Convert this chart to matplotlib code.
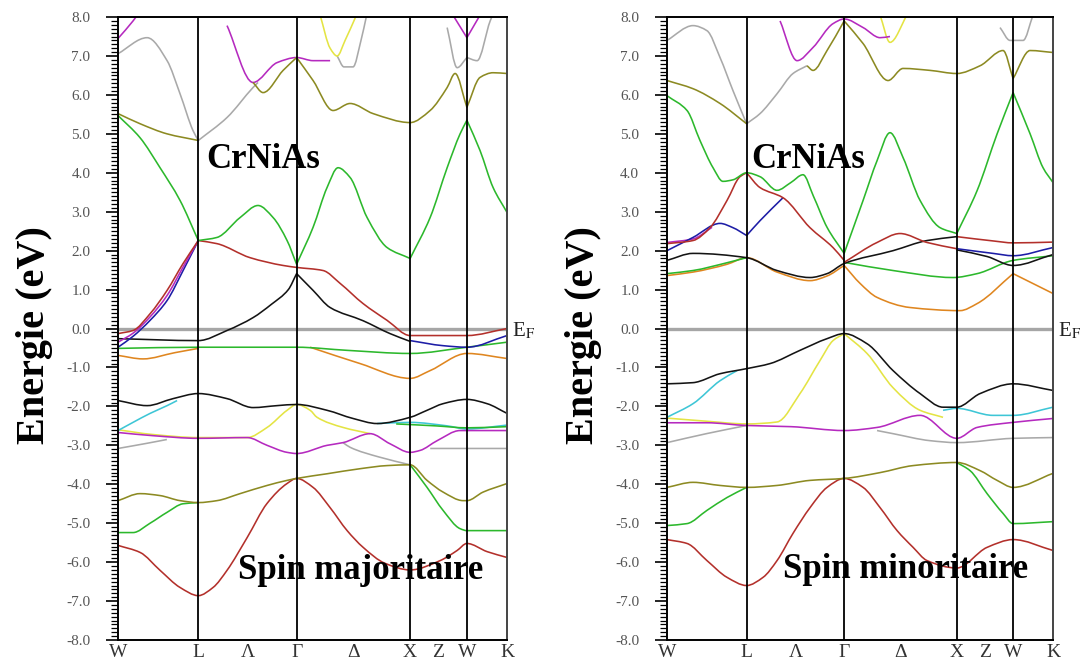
import matplotlib
matplotlib.use("Agg")
import matplotlib.pyplot as plt
from matplotlib.path import Path
from matplotlib.patches import PathPatch
from matplotlib.ticker import MultipleLocator, FormatStrFormatter

plt.rcParams["font.family"] = ["Liberation Serif", "DejaVu Serif"]
plt.rcParams["mathtext.fontset"] = "stix"

# high-symmetry path W-L-G-X-W-K (units of 2pi/a) and the labels along it
K_NODES = [0.0, 0.707, 1.573, 2.573, 3.073, 3.427]
K_TICKS = [0.0, 0.707, 1.140, 1.573, 2.073, 2.573, 2.823, 3.073, 3.427]
K_NAMES = ["W", "L", "Λ", "Γ", "Δ", "X", "Z", "W", "K"]

COL = {
    "red": "#b3302b", "green": "#2cb82c", "olive": "#8c8a22", "gray": "#a9a9a9",
    "magenta": "#b52abf", "yellow": "#e4e444", "cyan": "#3ec6d6", "orange": "#df8620",
    "blue": "#1d1da6", "black": "#141414",
}

# ---------------- spin majoritaire : (k, E[eV]) ----------------
MAJ_RED_LOW = [(0, -5.57), (0.194, -5.75), (0.37, -6.21), (0.546, -6.65), (0.707, -6.86),
               (0.837, -6.65), (0.96, -6.21), (1.137, -5.37), (1.313, -4.49), (1.489, -3.98),
               (1.573, -3.85), (1.718, -4.08), (1.868, -4.6), (2.018, -5.19), (2.159, -5.62),
               (2.352, -6.03), (2.573, -6.2), (2.837, -5.96), (2.987, -5.7), (3.073, -5.52),
               (3.251, -5.73), (3.427, -5.88)]
MAJ_GREEN_LOW_A = [(0, -5.24), (0.132, -5.24), (0.282, -5.0), (0.432, -4.72), (0.573, -4.5), (0.707, -4.47)]
MAJ_OLIVE_LOW = [(0, -4.42), (0.194, -4.24), (0.37, -4.29), (0.546, -4.42), (0.707, -4.47),
                 (0.872, -4.42), (1.075, -4.24), (1.313, -4.03), (1.489, -3.9), (1.573, -3.85),
                 (1.841, -3.73), (2.132, -3.6), (2.37, -3.52), (2.573, -3.5), (2.722, -3.9),
                 (2.863, -4.2), (3.04, -4.42), (3.073, -4.42), (3.216, -4.2), (3.427, -3.98)]
MAJ_GREEN_LOW_B = [(2.573, -3.5), (2.722, -4.08), (2.863, -4.67), (3.013, -5.14), (3.073, -5.19), (3.427, -5.19)]
MAJ_GRAY_LOW_A = [(0, -3.08), (0.25, -2.95), (0.43, -2.85)]
MAJ_GRAY_LOW_B = [(1.982, -2.93), (2.044, -3.05), (2.3, -3.3), (2.573, -3.5)]
MAJ_GRAY_LOW_C = [(2.75, -3.08), (3.073, -3.08), (3.427, -3.08)]
MAJ_MAGENTA_MID = [(0, -2.67), (0.3, -2.75), (0.707, -2.82), (1.137, -2.8), (1.313, -3.0),
                   (1.489, -3.18), (1.573, -3.21), (1.841, -3.0), (1.982, -2.93), (2.22, -2.7),
                   (2.396, -2.96), (2.573, -3.18), (2.661, -3.13), (2.811, -2.88), (3.013, -2.62),
                   (3.073, -2.62), (3.427, -2.62)]
MAJ_YELLOW_MID = [(0, -2.6), (0.3, -2.72), (0.707, -2.8), (0.96, -2.8), (1.137, -2.8),
                  (1.313, -2.54), (1.489, -2.1), (1.573, -1.95), (1.692, -2.1), (1.753, -2.28),
                  (1.982, -2.54), (2.22, -2.7)]
MAJ_CYAN_A = [(0, -2.62), (0.132, -2.41), (0.282, -2.18), (0.432, -1.98), (0.52, -1.85)]
MAJ_CYAN_B = [(2.282, -2.44), (2.573, -2.41), (2.9, -2.5), (3.073, -2.58), (3.427, -2.48)]
MAJ_GREEN_MID = [(2.45, -2.45), (2.8, -2.5), (3.073, -2.55), (3.427, -2.52)]
MAJ_BLACK_MID = [(0, -1.85), (0.256, -1.98), (0.485, -1.8), (0.707, -1.67), (0.96, -1.8),
                 (1.189, -2.03), (1.401, -1.98), (1.573, -1.95), (1.841, -2.1), (2.07, -2.31),
                 (2.282, -2.44), (2.573, -2.28), (2.722, -2.1), (2.863, -1.93), (3.073, -1.82),
                 (3.251, -1.93), (3.427, -2.18)]
MAJ_ORANGE_EF_A = [(0, -0.69), (0.22, -0.78), (0.5, -0.62), (0.707, -0.51)]
MAJ_ORANGE_EF_B = [(1.692, -0.48), (2.132, -0.9), (2.573, -1.28), (2.749, -1.08), (3.073, -0.64), (3.427, -0.77)]
MAJ_GREEN_EF = [(0, -0.51), (0.707, -0.48), (1.573, -0.48), (2.018, -0.56), (2.573, -0.64),
                (3.073, -0.48), (3.427, -0.35)]
MAJ_BLACK_EF = [(0, -0.26), (0.707, -0.31), (0.96, -0.05), (1.189, 0.28), (1.35, 0.62),
                (1.5, 1.0), (1.573, 1.41), (1.718, 0.98), (1.868, 0.54),
                (2.159, 0.2), (2.396, -0.13), (2.573, -0.33)]
MAJ_BLUE_EF = [(0, -0.48), (0.132, -0.2), (0.282, 0.21), (0.432, 0.72), (0.573, 1.49), (0.707, 2.26)]
MAJ_BLUE_EF_B = [(2.573, -0.31), (2.863, -0.44), (3.073, -0.48), (3.427, -0.18)]
MAJ_MAGENTA_EF = [(0, -0.35), (0.132, -0.12), (0.282, 0.3), (0.432, 0.85), (0.573, 1.58), (0.707, 2.26)]
MAJ_RED_EF = [(0, -0.13), (0.132, -0.05), (0.282, 0.38), (0.432, 0.98), (0.573, 1.67), (0.707, 2.26),
              (0.872, 2.18), (1.163, 1.82), (1.454, 1.62), (1.573, 1.57), (1.806, 1.49),
              (1.956, 1.16), (2.159, 0.64), (2.37, 0.21), (2.573, -0.18), (3.073, -0.18), (3.427, 0.0)]
MAJ_GREEN_UP = [(0, 5.47), (0.194, 4.9), (0.37, 4.13), (0.546, 3.29), (0.707, 2.26), (0.872, 2.34),
                (1.075, 2.85), (1.233, 3.16), (1.366, 2.85), (1.489, 2.26), (1.573, 1.65),
                (1.718, 2.6), (1.841, 3.62), (1.938, 4.13), (2.044, 3.88), (2.194, 2.85),
                (2.37, 2.08), (2.573, 1.8), (2.749, 2.85), (2.899, 4.13), (3.013, 5.0), (3.073, 5.35),
                (3.189, 4.57), (3.304, 3.62), (3.427, 2.98)]
MAJ_OLIVE_UP = [(0, 5.52), (0.194, 5.26), (0.432, 5.0), (0.707, 4.83)]
MAJ_GRAY_UP = [(0, 7.06), (0.256, 7.47), (0.432, 6.88), (0.546, 6.03), (0.661, 5.08), (0.707, 4.83),
               (0.96, 5.42), (1.189, 6.19), (1.233, 6.32)]
MAJ_MAGENTA_TOP_A = [(0, 7.45), (0.132, 7.9), (0.17, 8.05)]
MAJ_MAGENTA_TOP_B = [(0.96, 7.78), (1.189, 6.32), (1.401, 6.83), (1.573, 6.96), (1.718, 6.88), (1.868, 6.88)]
MAJ_OLIVE_TOP = [(1.189, 6.32), (1.278, 6.06), (1.454, 6.63), (1.573, 6.96), (1.718, 6.37),
                 (1.894, 5.6), (2.044, 5.78), (2.247, 5.52), (2.573, 5.29), (2.749, 5.6),
                 (2.899, 6.19), (2.969, 6.55), (3.073, 5.68), (3.189, 6.45), (3.304, 6.57), (3.427, 6.55)]
MAJ_YELLOW_TOP = [(1.78, 8.05), (1.868, 7.2), (1.93, 7.0), (2.0, 7.4), (2.1, 8.05)]
MAJ_GRAY_TOP_A = [(1.93, 7.0), (1.99, 6.72), (2.07, 6.72), (2.14, 7.4), (2.19, 8.05)]
MAJ_GRAY_TOP_B = [(2.899, 7.73), (2.987, 6.7), (3.073, 6.96), (3.163, 6.88), (3.278, 7.9), (3.3, 8.05)]
MAJ_MAGENTA_TOP_C = [(2.95, 8.05), (3.073, 7.47), (3.189, 8.05)]

MAJ_BANDS = [
    (MAJ_GRAY_LOW_A, "gray"), (MAJ_GRAY_LOW_B, "gray"), (MAJ_GRAY_LOW_C, "gray"),
    (MAJ_GRAY_UP, "gray"), (MAJ_GRAY_TOP_A, "gray"), (MAJ_GRAY_TOP_B, "gray"),
    (MAJ_YELLOW_MID, "yellow"), (MAJ_YELLOW_TOP, "yellow"),
    (MAJ_CYAN_A, "cyan"), (MAJ_CYAN_B, "cyan"), (MAJ_GREEN_MID, "green"),
    (MAJ_ORANGE_EF_A, "orange"), (MAJ_ORANGE_EF_B, "orange"),
    (MAJ_RED_LOW, "red"), (MAJ_GREEN_LOW_A, "green"), (MAJ_GREEN_LOW_B, "green"),
    (MAJ_OLIVE_LOW, "olive"), (MAJ_MAGENTA_MID, "magenta"), (MAJ_BLACK_MID, "black"),
    (MAJ_GREEN_EF, "green"), (MAJ_BLACK_EF, "black"), (MAJ_BLUE_EF, "blue"), (MAJ_BLUE_EF_B, "blue"),
    (MAJ_MAGENTA_EF, "magenta"), (MAJ_RED_EF, "red"), (MAJ_GREEN_UP, "green"),
    (MAJ_OLIVE_UP, "olive"), (MAJ_MAGENTA_TOP_A, "magenta"), (MAJ_MAGENTA_TOP_B, "magenta"),
    (MAJ_OLIVE_TOP, "olive"), (MAJ_MAGENTA_TOP_C, "magenta"),
]

# ---------------- spin minoritaire ----------------
MIN_RED_LOW = [(0, -5.42), (0.178, -5.52), (0.355, -5.96), (0.533, -6.39), (0.707, -6.6),
               (0.853, -6.39), (0.977, -5.96), (1.119, -5.26), (1.27, -4.6), (1.421, -4.08),
               (1.573, -3.85), (1.741, -4.08), (1.892, -4.6), (2.043, -5.19), (2.185, -5.62),
               (2.309, -5.96), (2.573, -6.15), (2.842, -5.62), (3.073, -5.42), (3.427, -5.7)]
MIN_GREEN_LOW_A = [(0, -5.06), (0.178, -5.01), (0.355, -4.67), (0.533, -4.34), (0.707, -4.08)]
MIN_OLIVE_LOW = [(0, -4.08), (0.231, -3.95), (0.471, -4.03), (0.707, -4.08), (0.977, -4.03),
                 (1.27, -3.9), (1.573, -3.85), (1.892, -3.7), (2.185, -3.52), (2.573, -3.44),
                 (2.78, -3.65), (2.931, -3.9), (3.073, -4.08), (3.427, -3.72)]
MIN_GREEN_LOW_B = [(2.573, -3.44), (2.691, -3.65), (2.842, -4.24), (2.984, -4.75), (3.073, -5.01), (3.427, -4.96)]
MIN_GRAY_LOW_A = [(0, -2.93), (0.35, -2.7), (0.707, -2.49)]
MIN_GRAY_LOW_B = [(1.865, -2.62), (2.007, -2.7), (2.336, -2.88), (2.573, -2.93), (3.073, -2.82), (3.427, -2.8)]
MIN_MAGENTA_MID = [(0, -2.42), (0.35, -2.42), (0.707, -2.49), (1.1, -2.52), (1.573, -2.62),
                   (1.865, -2.54), (2.247, -2.23), (2.573, -2.82), (2.753, -2.54), (3.073, -2.41), (3.427, -2.31)]
MIN_YELLOW_MID = [(0, -2.3), (0.35, -2.38), (0.707, -2.45), (0.977, -2.4), (1.181, -1.67),
                  (1.359, -0.82), (1.474, -0.31), (1.573, -0.13), (1.776, -0.64), (2.007, -1.52),
                  (2.247, -2.1), (2.451, -2.28)]
MIN_CYAN_A = [(0, -2.28), (0.231, -1.93), (0.471, -1.34), (0.622, -1.08)]
MIN_CYAN_B = [(2.451, -2.1), (2.573, -2.05), (2.895, -2.23), (3.073, -2.23), (3.427, -2.02)]
MIN_BLACK_MID = [(0, -1.42), (0.231, -1.39), (0.471, -1.16), (0.707, -1.03), (0.915, -0.9),
                 (1.181, -0.56), (1.421, -0.26), (1.573, -0.13), (1.776, -0.39), (2.007, -1.08),
                 (2.247, -1.67), (2.451, -2.02), (2.573, -2.02), (2.78, -1.67), (3.073, -1.42), (3.427, -1.59)]
MIN_ORANGE_UP = [(0, 1.36), (0.231, 1.45), (0.533, 1.65), (0.707, 1.82), (0.977, 1.45), (1.27, 1.23),
                 (1.421, 1.35), (1.573, 1.62), (1.714, 1.16), (1.865, 0.8), (2.158, 0.54),
                 (2.602, 0.46), (2.753, 0.64), (3.073, 1.41), (3.427, 0.9)]
MIN_GREEN_UP_LOW = [(0, 1.41), (0.231, 1.49), (0.533, 1.69), (0.707, 1.82)]
MIN_GREEN_UP_LOW_B = [(1.573, 1.7), (2.007, 1.49), (2.54, 1.31), (2.753, 1.41), (3.073, 1.75), (3.427, 1.87)]
MIN_BLACK_UP = [(0, 1.75), (0.231, 1.93), (0.707, 1.82), (0.977, 1.49), (1.27, 1.31), (1.421, 1.41),
                (1.573, 1.67), (2.007, 2.0), (2.309, 2.26), (2.573, 2.36)]
MIN_BLACK_UP_B = [(2.573, 2.02), (2.842, 1.85), (3.073, 1.62), (3.427, 1.9)]
MIN_DARKRED_UP = [(1.573, 1.7), (1.865, 2.21), (2.069, 2.44), (2.309, 2.21), (2.573, 2.05)]
MIN_BLUE_UP_B = [(2.573, 2.05), (2.895, 1.93), (3.073, 1.87), (3.427, 2.08)]
MIN_RED_UP_B = [(2.573, 2.36), (2.895, 2.25), (3.073, 2.2), (3.427, 2.22)]
MIN_RED_UP = [(0, 2.18), (0.231, 2.26), (0.382, 2.59), (0.533, 3.29), (0.648, 3.9), (0.707, 4.0),
              (0.826, 3.62), (1.03, 3.36), (1.27, 2.59), (1.474, 2.08), (1.573, 1.75)]
MIN_BLUE_UP = [(0, 2.0), (0.231, 2.34), (0.471, 2.7), (0.586, 2.59), (0.707, 2.39), (0.826, 2.77), (1.03, 3.36)]
MIN_MAGENTA_UP = [(0, 2.21), (0.231, 2.3), (0.4, 2.6)]
MIN_GREEN_UP = [(0, 5.98), (0.178, 5.6), (0.293, 4.83), (0.409, 4.13), (0.497, 3.78), (0.586, 3.82),
                (0.707, 4.0), (0.826, 3.9), (0.977, 3.55), (1.1, 3.75), (1.208, 3.95), (1.3, 3.4),
                (1.421, 2.6), (1.573, 1.93), (1.741, 3.29), (1.865, 4.31), (1.98, 5.03), (2.096, 4.39),
                (2.247, 3.29), (2.425, 2.59), (2.573, 2.44), (2.753, 3.54), (2.931, 5.0), (3.073, 6.06),
                (3.224, 5.0), (3.339, 4.13), (3.427, 3.75)]
MIN_OLIVE_UP = [(0, 6.37), (0.231, 6.16), (0.471, 5.78), (0.707, 5.26)]
MIN_GRAY_UP = [(0, 7.4), (0.231, 7.78), (0.355, 7.65), (0.471, 6.96), (0.586, 6.11), (0.707, 5.26),
               (0.826, 5.52), (0.977, 6.03), (1.119, 6.55), (1.243, 6.75)]
MIN_MAGENTA_TOP = [(1.004, 7.9), (1.155, 6.88), (1.297, 7.22), (1.474, 7.83), (1.573, 7.95),
                   (1.741, 7.73), (1.892, 7.47), (1.98, 7.5)]
MIN_OLIVE_TOP = [(1.243, 6.75), (1.297, 6.63), (1.421, 7.14), (1.573, 7.9), (1.741, 7.32),
                 (1.963, 6.37), (2.096, 6.68), (2.336, 6.63), (2.573, 6.55), (2.78, 6.75),
                 (2.984, 7.14), (3.073, 6.42), (3.224, 7.14), (3.427, 7.09)]
MIN_YELLOW_TOP = [(1.892, 8.05), (1.98, 7.35), (2.131, 8.05)]
MIN_GRAY_TOP = [(2.957, 7.73), (3.046, 7.4), (3.162, 7.4), (3.25, 8.05)]

MIN_BANDS = [
    (MIN_GRAY_LOW_A, "gray"), (MIN_GRAY_LOW_B, "gray"), (MIN_GRAY_UP, "gray"), (MIN_GRAY_TOP, "gray"),
    (MIN_YELLOW_MID, "yellow"), (MIN_YELLOW_TOP, "yellow"),
    (MIN_CYAN_A, "cyan"), (MIN_CYAN_B, "cyan"),
    (MIN_RED_LOW, "red"), (MIN_GREEN_LOW_A, "green"), (MIN_GREEN_LOW_B, "green"),
    (MIN_OLIVE_LOW, "olive"), (MIN_MAGENTA_MID, "magenta"), (MIN_BLACK_MID, "black"),
    (MIN_ORANGE_UP, "orange"), (MIN_GREEN_UP_LOW, "green"), (MIN_GREEN_UP_LOW_B, "green"),
    (MIN_BLACK_UP, "black"), (MIN_BLACK_UP_B, "black"), (MIN_DARKRED_UP, "red"),
    (MIN_BLUE_UP_B, "blue"), (MIN_RED_UP_B, "red"), (MIN_MAGENTA_UP, "magenta"),
    (MIN_BLUE_UP, "blue"), (MIN_RED_UP, "red"), (MIN_GREEN_UP, "green"),
    (MIN_OLIVE_UP, "olive"), (MIN_MAGENTA_TOP, "magenta"), (MIN_OLIVE_TOP, "olive"),
]


def band_path(pts):
    """Cubic Hermite (pchip-like) Bezier path through the points; kinks are kept
    at high-symmetry points where the band slope jumps."""
    k = [p[0] for p in pts]; e = [p[1] for p in pts]
    n = len(pts)
    d = [(e[i + 1] - e[i]) / (k[i + 1] - k[i]) for i in range(n - 1)]
    mL = [0.0] * n; mR = [0.0] * n
    mR[0] = d[0]; mL[-1] = d[-1]
    for i in range(1, n - 1):
        a, b = d[i - 1], d[i]
        on_node = any(abs(k[i] - kn) < 2e-3 for kn in K_NODES)
        if on_node and abs(a - b) > 3.5:
            mL[i], mR[i] = a, b
            continue
        if a * b <= 0:
            m = 0.0
        else:
            h0, h1 = k[i] - k[i - 1], k[i + 1] - k[i]
            w1, w2 = 2 * h1 + h0, h1 + 2 * h0
            m = (w1 + w2) / (w1 / a + w2 / b)
        mL[i] = mR[i] = m
    verts = [(k[0], e[0])]; codes = [Path.MOVETO]
    for i in range(n - 1):
        h = k[i + 1] - k[i]
        verts += [(k[i] + h / 3, e[i] + mR[i] * h / 3),
                  (k[i + 1] - h / 3, e[i + 1] - mL[i + 1] * h / 3),
                  (k[i + 1], e[i + 1])]
        codes += [Path.CURVE4] * 3
    return Path(verts, codes)


def draw_panel(ax, bands, spin_text, name_xy, spin_xy):
    for pts, c in bands:
        ax.add_patch(PathPatch(band_path(pts), fill=False, edgecolor=COL[c],
                               lw=1.15, joinstyle="round", zorder=2))
    for kn in K_NODES[1:-1]:
        ax.axvline(kn, color="k", lw=1.3, zorder=3)
    ax.axhline(0.0, color="#a6a6a6", lw=2.4, zorder=1)
    ax.set_xlim(K_NODES[0], K_NODES[-1]); ax.set_ylim(-8, 8)
    ax.set_xticks(K_TICKS); ax.set_xticklabels(K_NAMES, fontsize=14, color="#333333")
    ax.tick_params(axis="x", length=0, pad=3)
    ax.yaxis.set_major_locator(MultipleLocator(1.0))
    ax.yaxis.set_minor_locator(MultipleLocator(0.1))
    ax.yaxis.set_major_formatter(FormatStrFormatter("%.1f"))
    ax.tick_params(axis="y", which="major", direction="out", length=9, width=1.2,
                   pad=11, labelsize=11, labelcolor="#555555")
    ax.tick_params(axis="y", which="minor", direction="out", length=5, width=0.9)
    for s in ax.spines.values():
        s.set_linewidth(1.4); s.set_zorder(4)
    ax.spines["right"].set_color("#444444")
    ax.text(1.012, -0.05, r"E$_{\rm F}$", transform=ax.get_yaxis_transform(),
            fontsize=15, va="center", ha="left", color="#222222")
    ax.text(-0.215, 0.49, "Energie (eV)", transform=ax.transAxes, rotation=90,
            fontsize=29, fontweight="bold", ha="center", va="center")
    ax.text(*name_xy, "CrNiAs", fontsize=25, fontweight="bold", ha="center", va="baseline", zorder=5)
    ax.text(*spin_xy, spin_text, fontsize=25, fontweight="bold", ha="center", va="baseline", zorder=5)


fig = plt.figure(figsize=(10.87, 6.66), dpi=100)
ax1 = fig.add_axes([0.1086, 0.039, 0.3579, 0.9354])
ax2 = fig.add_axes([0.6136, 0.039, 0.3551, 0.9354])
draw_panel(ax1, MAJ_BANDS, "Spin majoritaire", (1.28, 4.13), (2.14, -6.42))
draw_panel(ax2, MIN_BANDS, "Spin minoritaire", (1.25, 4.13), (2.12, -6.40))
fig.savefig("out.png", dpi=100)
